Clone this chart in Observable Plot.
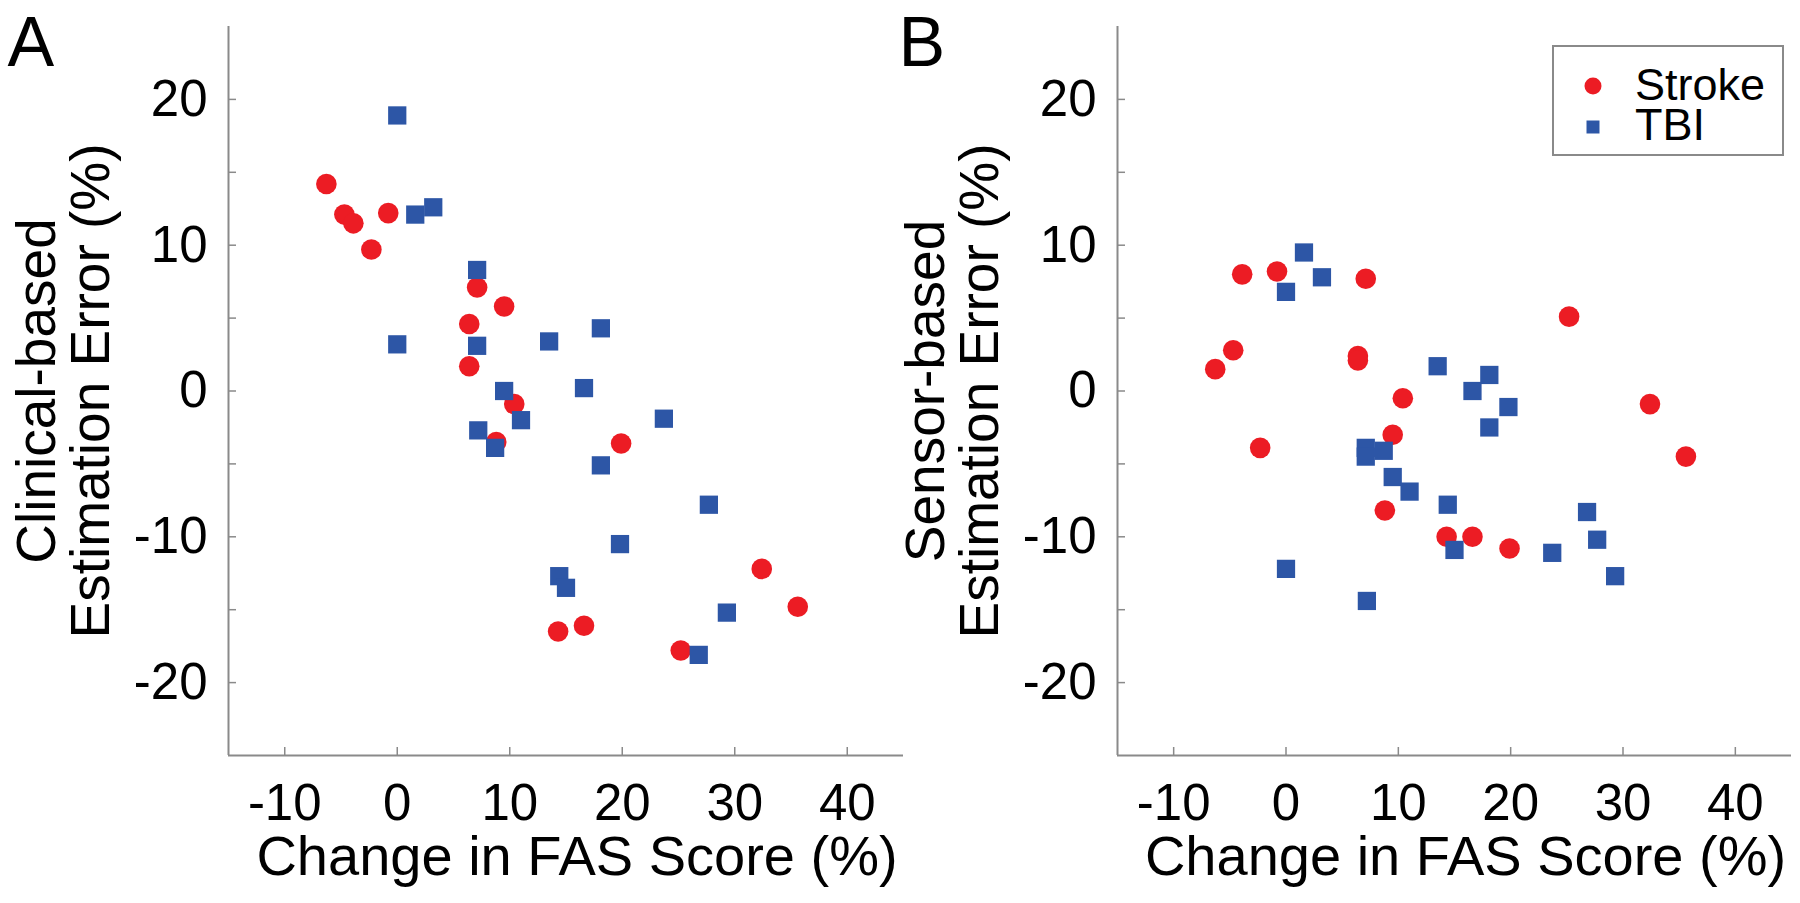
<!DOCTYPE html>
<html><head><meta charset="utf-8">
<script src="https://cdn.jsdelivr.net/npm/d3@7"></script>
<script src="https://cdn.jsdelivr.net/npm/@observablehq/plot@0.6"></script>
<style>
body{margin:0;background:#fff;}
#chart{position:relative;width:1800px;height:903px;overflow:hidden;font-family:"Liberation Sans",Arial,sans-serif;background:#fff;}
.panel{position:absolute;top:0;}
</style></head><body><div id="chart"></div>
<script>
// ---- data ----
const groups = ["Stroke", "TBI"];
const colors = ["#ec1c24", "#2d56a6"];
const symbols = ["circle", "square"];

// Change in FAS score (%) per patient
const strokeX = [-6.3, -4.7, -3.9, -2.3, -0.8, 6.4, 6.4, 7.1, 8.8, 9.5, 10.4, 14.3, 16.6, 19.9, 25.2, 32.4, 35.6];
const strokeClinical = [14.2, 12.1, 11.5, 9.7, 12.2, 4.6, 1.7, 7.1, -3.5, 5.8, -0.9, -16.5, -16.1, -3.6, -17.8, -12.2, -14.8];
const strokeSensor = [1.5, 2.8, 8.0, -3.9, 8.2, 2.4, 2.1, 7.7, -8.2, -3.0, -0.5, -10.0, -10.0, -10.8, 5.1, -0.9, -4.5];

const tbiX = [0.0, 0.0, 1.6, 3.2, 7.1, 7.1, 7.2, 8.7, 9.5, 11.0, 13.5, 14.4, 15.0, 16.6, 18.1, 18.1, 19.8, 23.7, 26.8, 27.7, 29.3];
const tbiClinical = [18.9, 3.2, 12.1, 12.6, 8.3, 3.1, -2.7, -3.9, 0.0, -2.0, 3.4, -12.7, -13.5, 0.2, 4.3, -5.1, -10.5, -1.9, -18.1, -7.8, -15.2];
const tbiSensor = [6.8, -12.2, 9.5, 7.8, -3.9, -4.5, -14.4, -4.1, -5.9, -6.9, 1.7, -7.8, -10.9, 0.0, 1.1, -2.5, -1.1, -11.1, -8.3, -10.2, -12.7];

const xTicks = [-10, 0, 10, 20, 30, 40];
const yTicks = [-20, -10, 0, 10, 20];
const yMinorTicks = [-20, -15, -10, -5, 0, 5, 10, 15, 20];
const xDomain = [-15, 45];
const yDomain = [-25, 25];
const xLabel = "Change in FAS Score (%)";
const panelLetters = ["A", "B"];
const yLabelLines = [["Clinical-based", "Estimation Error (%)"], ["Sensor-based", "Estimation Error (%)"]];

// ---- layout ----
const FONT = '"Liberation Sans", Arial, Helvetica, sans-serif';
const H = 903, ML = 228, MT = 26, MB = 148;
const axisColor = "#8a8a8a";
const layouts = [
  {left: 0, width: 905, marginRight: 2},
  {left: 889, width: 911, marginRight: 9}
];
const seriesY = [[strokeClinical, tbiClinical], [strokeSensor, tbiSensor]];

const chart = document.getElementById("chart");

layouts.forEach((L, k) => {
  const [sY, tY] = seriesY[k];
  const data = [
    ...strokeX.map((x, i) => ({x, y: sY[i], g: groups[0]})),
    ...tbiX.map((x, i) => ({x, y: tY[i], g: groups[1]}))
  ];
  const plotW = L.width - ML - L.marginRight;
  const plotH = H - MT - MB;
  const svg = Plot.plot({
    width: L.width, height: H,
    marginLeft: ML, marginRight: L.marginRight, marginTop: MT, marginBottom: MB,
    style: {background: "transparent", fontFamily: FONT, color: "#000", overflow: "visible"},
    x: {domain: xDomain},
    y: {domain: yDomain},
    color: {domain: groups, range: colors},
    symbol: {domain: groups, range: symbols},
    marks: [
      Plot.ruleX([xDomain[0]], {stroke: axisColor, strokeWidth: 2}),
      Plot.ruleY([yDomain[0]], {stroke: axisColor, strokeWidth: 2}),
      Plot.tickY(yMinorTicks, {y: d => d, stroke: axisColor, strokeWidth: 1.5, insetRight: plotW - 8}),
      Plot.tickX(xTicks, {x: d => d, stroke: axisColor, strokeWidth: 1.5, insetTop: plotH - 8}),
      Plot.axisY(yTicks, {tickSize: 0, tickPadding: 21, fontSize: 51, tickFormat: d => String(d), label: null}),
      Plot.axisX(xTicks, {tickSize: 0, tickPadding: 28, fontSize: 51, tickFormat: d => String(d), label: null}),
      Plot.dot(data, {x: "x", y: "y", fill: "g", symbol: "g", r: 10.3}),
      Plot.text([xLabel], {text: d => d, frameAnchor: "bottom", textAnchor: "middle", dx: 11, dy: 119, lineAnchor: "bottom", fontSize: 56}),
      Plot.text([yLabelLines[k][0]], {text: d => d, frameAnchor: "left", textAnchor: "middle", rotate: -90, dx: 54 - ML, lineAnchor: "bottom", fontSize: 55}),
      Plot.text([yLabelLines[k][1]], {text: d => d, frameAnchor: "left", textAnchor: "middle", rotate: -90, dx: 108 - ML, lineAnchor: "bottom", fontSize: 55}),
      Plot.text([panelLetters[k]], {text: d => d, frameAnchor: "top-left", textAnchor: "start", lineAnchor: "bottom", dx: (k === 0 ? 7 : 9) - ML, dy: 65 - MT, fontSize: 70})
    ]
  });
  svg.classList.add("panel");
  svg.style.left = L.left + "px";
  svg.style.top = "0px";
  svg.style.position = "absolute";
  chart.appendChild(svg);
});

// ---- legend (panel B, top right) ----
const leg = d3.select(chart).append("svg")
  .attr("width", 232).attr("height", 111)
  .style("position", "absolute").style("left", "1552px").style("top", "45px");
leg.append("rect").attr("x", 1).attr("y", 1).attr("width", 230).attr("height", 109)
  .attr("fill", "#fff").attr("stroke", axisColor).attr("stroke-width", 2);
const legRows = [{cy: 41, base: 55}, {cy: 82, base: 95}];
groups.forEach((g, i) => {
  const sym = d3.symbol(i === 0 ? d3.symbolCircle : d3.symbolSquare, i === 0 ? Math.PI * 8.5 * 8.5 : 13 * 13);
  leg.append("path").attr("d", sym()).attr("transform", `translate(41,${legRows[i].cy})`).attr("fill", colors[i]);
  leg.append("text").attr("x", 83).attr("y", legRows[i].base).attr("font-family", FONT)
    .attr("font-size", 45).attr("fill", "#000").text(g);
});
</script>
</body></html>
